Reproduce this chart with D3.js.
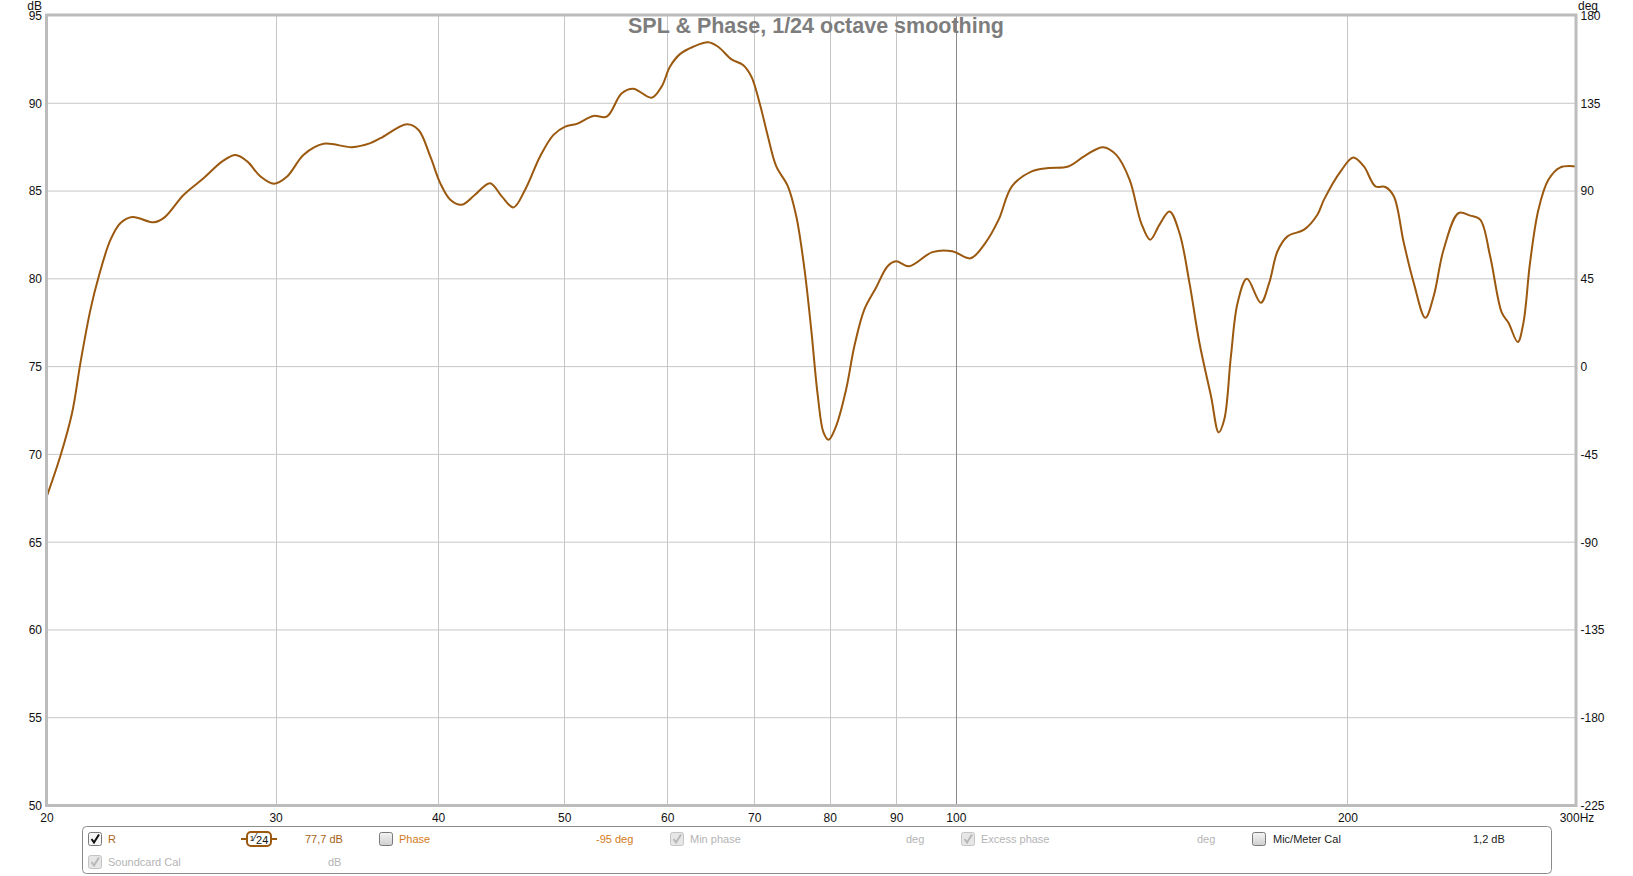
<!DOCTYPE html>
<html><head><meta charset="utf-8">
<script src="https://cdn.jsdelivr.net/npm/d3@7"></script>
<style>
html,body{margin:0;padding:0;background:#fff;overflow:hidden;}
svg{display:block;font-family:"Liberation Sans",Arial,sans-serif;}
</style></head><body>
<svg id="chart" width="1633" height="876"></svg>
<script>
// ---- data ----
const freqHz = [20.0,20.5,20.93,21.24,21.62,21.94,22.40,22.80,23.28,24.18,24.62,25.50,26.42,27.30,27.95,28.53,29.21,29.91,30.62,31.53,32.66,34.35,35.48,36.12,37.86,38.64,39.45,40.15,40.87,41.72,42.70,43.85,44.77,45.70,46.66,47.91,49.06,50.09,51.13,52.65,53.91,55.36,56.50,58.37,59.41,60.29,61.37,62.83,64.51,65.66,67.23,68.62,69.64,70.67,71.71,72.78,74.29,75.40,76.51,77.42,78.33,79.12,79.83,80.92,82.36,83.57,85.06,86.83,88.63,89.95,92.08,95.93,99.37,102.64,105.38,107.88,110.44,114.39,117.80,122.02,125.66,129.78,132.85,136.03,138.84,141.06,143.42,145.97,148.57,151.22,153.91,157.09,159.25,160.86,162.74,164.68,167.41,171.58,174.14,176.72,179.86,185.24,189.64,191.88,197.60,202.07,205.92,210.17,213.91,217.11,220.98,224.91,229.57,233.00,237.14,243.52,248.56,252.98,257.48,262.85,265.97,270.37,273.11,276.31,280.44,285.43,291.32,300.0];
const splDb = [67.56,69.92,72.39,75.23,78.26,80.15,82.23,83.18,83.52,83.22,83.47,84.79,85.74,86.69,87.05,86.69,85.83,85.42,85.83,87.07,87.69,87.50,87.73,88.01,88.81,88.48,86.97,85.45,84.51,84.22,84.79,85.45,84.70,84.07,85.08,86.97,88.20,88.67,88.83,89.28,89.24,90.57,90.83,90.32,90.95,92.08,92.80,93.22,93.47,93.22,92.50,92.18,91.52,90.00,88.11,86.40,85.27,83.56,80.53,77.12,73.33,71.25,70.83,71.63,73.71,76.17,78.26,79.49,80.72,81.00,80.72,81.52,81.57,81.17,82.05,83.37,85.27,86.12,86.31,86.40,87.01,87.50,87.06,85.64,83.18,82.23,83.09,83.84,82.61,79.77,76.36,73.33,71.25,72.01,75.61,78.64,80.00,78.64,79.77,81.57,82.42,82.80,83.65,84.51,86.12,86.91,86.40,85.27,85.23,84.70,82.05,79.77,77.78,79.02,81.67,83.75,83.60,83.37,81.29,78.07,77.50,76.40,77.50,80.91,83.94,85.64,86.34,86.40];

const xTickValues = [20,30,40,50,60,70,80,90,100,200,300];
const xTickLabels = ["20","30","40","50","60","70","80","90","100","200","300Hz"];
const xGridValues = [30,40,50,60,70,80,90,100,200];
const yLeftTicks = [95,90,85,80,75,70,65,60,55,50];
const yGridValues = [90,85,80,75,70,65,60,55];
const yRightTicks = [180,135,90,45,0,-45,-90,-135,-180,-225];
const titleText = "SPL & Phase, 1/24 octave smoothing";
const leftUnit = "dB", rightUnit = "deg";

// legend content
const legendRow1 = [
  {box:"checked", bx:88, label:"R", lx:108, color:"#b0641c"},
  {smooth:"1/24", cx:259},
  {label:"77,7 dB", lx:305, color:"#a45f18"},
  {box:"unchecked", bx:379, label:"Phase", lx:399, color:"#d47a22"},
  {label:"-95 deg", lx:596, color:"#d47a22"},
  {box:"disabled", bx:670, label:"Min phase", lx:690, color:"#b4b4b4"},
  {label:"deg", lx:906, color:"#b4b4b4"},
  {box:"disabled", bx:961, label:"Excess phase", lx:981, color:"#b4b4b4"},
  {label:"deg", lx:1197, color:"#b4b4b4"},
  {box:"unchecked", bx:1252, label:"Mic/Meter Cal", lx:1273, color:"#222"},
  {label:"1,2 dB", lx:1473, color:"#222"}
];
const legendRow2 = [
  {box:"disabled", bx:88, label:"Soundcard Cal", lx:108, color:"#b4b4b4"},
  {label:"dB", lx:328, color:"#b4b4b4"}
];

// ---- layout ----
const L = 46.5, R = 1576.5, T = 15.5, B = 805.5;
const svg = d3.select("#chart");

const x = d3.scaleLog().domain([20,300]).range([L,R]);
const yL = d3.scaleLinear().domain([50,95]).range([B,T]);
const yR = d3.scaleLinear().domain([-225,180]).range([B,T]);

// grid
const grid = svg.append("g");
grid.selectAll("line.h").data(yGridValues).join("line")
  .attr("x1",L).attr("x2",R).attr("y1",d=>yL(d)).attr("y2",d=>yL(d))
  .attr("stroke","#c6c6c6").attr("stroke-width",1);
grid.selectAll("line.v").data(xGridValues).join("line")
  .attr("x1",d=>Math.round(x(d))+0.5).attr("x2",d=>Math.round(x(d))+0.5).attr("y1",T).attr("y2",B)
  .attr("stroke",d=>d===100?"#8a8a8a":"#c6c6c6").attr("stroke-width",1);

// title
svg.append("text").attr("x",816).attr("y",33).attr("text-anchor","middle")
  .attr("font-size","21.5px").attr("font-weight","bold").attr("fill","#7d7d7d")
  .text(titleText);

// curve
const pts = freqHz.map((f,i)=>[f,splDb[i]]);
const line = d3.line().x(d=>x(d[0])).y(d=>yL(d[1])).curve(d3.curveCatmullRom.alpha(0.5));
svg.append("path").datum(pts).attr("d",line).attr("fill","none")
  .attr("stroke","#9b580f").attr("stroke-width",2).attr("stroke-linejoin","round");

// frame
svg.append("rect").attr("x",L).attr("y",T-0.5).attr("width",R-L-0.5).attr("height",B-T+0.5)
  .attr("fill","none").attr("stroke","#bcbcbc").attr("stroke-width",3);

// axes
function styleAxis(g){
  g.select(".domain").remove();
  g.selectAll("text").attr("font-size","12px").attr("fill","#111")
    .attr("font-family","'Liberation Sans',Arial,sans-serif");
}
svg.append("g").attr("transform",`translate(${L},0)`)
  .call(d3.axisLeft(yL).tickValues(yLeftTicks).tickSize(0).tickPadding(4.5).tickFormat(d=>String(d)))
  .call(styleAxis);
svg.append("g").attr("transform",`translate(${R},0)`)
  .call(d3.axisRight(yR).tickValues(yRightTicks).tickSize(0).tickPadding(4).tickFormat(d=>String(d)))
  .call(styleAxis);
svg.append("g").attr("transform",`translate(0,${B})`)
  .call(d3.axisBottom(x).tickValues(xTickValues).tickSize(0).tickPadding(8)
    .tickFormat((d,i)=>xTickLabels[i]))
  .call(styleAxis);

svg.append("text").attr("x",42).attr("y",9.5).attr("text-anchor","end")
  .attr("font-size","12px").attr("fill","#111").text(leftUnit);
svg.append("text").attr("x",1578).attr("y",10)
  .attr("font-size","12px").attr("fill","#111").text(rightUnit);

// legend
const defs = svg.append("defs");
const gr = defs.append("linearGradient").attr("id","cbGrad").attr("x1",0).attr("x2",0).attr("y1",0).attr("y2",1);
gr.append("stop").attr("offset","0%").attr("stop-color","#f4f4f4");
gr.append("stop").attr("offset","100%").attr("stop-color","#cfcfcf");

const lg = svg.append("g");
lg.append("rect").attr("x",82.5).attr("y",826.5).attr("width",1469).attr("height",47)
  .attr("rx",4).attr("fill","#fff").attr("stroke","#8c8c8c").attr("stroke-width",1);

function drawRow(items, baseY){
  const boxY = baseY - 11;
  items.forEach(it=>{
    if(it.box){
      const disabled = it.box==="disabled";
      lg.append("rect").attr("x",it.bx+0.5).attr("y",boxY+0.5).attr("width",13).attr("height",13).attr("rx",2)
        .attr("fill", it.box==="checked" ? "#f7f7f7" : (disabled ? "#e6e6e6" : "url(#cbGrad)"))
        .attr("stroke", disabled ? "#c4c4c4" : "#7a7a7a").attr("stroke-width",1);
      if(it.box!=="unchecked"){
        lg.append("path")
          .attr("d",`M${it.bx+3.5},${boxY+7} L${it.bx+6},${boxY+10.5} L${it.bx+11},${boxY+2.5}`)
          .attr("fill","none").attr("stroke", disabled ? "#b8b8b8" : "#111").attr("stroke-width",2);
      }
    }
    if(it.smooth){
      const cx = it.cx, cy = baseY - 4;
      lg.append("line").attr("x1",cx-18).attr("x2",cx+18).attr("y1",cy).attr("y2",cy)
        .attr("stroke","#9b580f").attr("stroke-width",2);
      lg.append("rect").attr("x",cx-12).attr("y",cy-7).attr("width",24).attr("height",14).attr("rx",4)
        .attr("fill","#fff").attr("stroke","#9b580f").attr("stroke-width",2);
      const t = lg.append("text").attr("x",cx).attr("y",cy+4.5).attr("text-anchor","middle")
        .attr("font-size","11px").attr("fill","#111");
      const parts = it.smooth.split("/");
      t.append("tspan").attr("font-size","8px").attr("dy",-3).text(parts[0]);
      t.append("tspan").attr("dy",0).text("\u2044");
      t.append("tspan").attr("dy",3).text(parts[1]);
    }
    if(it.label){
      lg.append("text").attr("x",it.lx).attr("y",baseY).attr("font-size","11px")
        .attr("fill",it.color).text(it.label);
    }
  });
}
drawRow(legendRow1, 843);
drawRow(legendRow2, 866);
</script>
</body></html>
